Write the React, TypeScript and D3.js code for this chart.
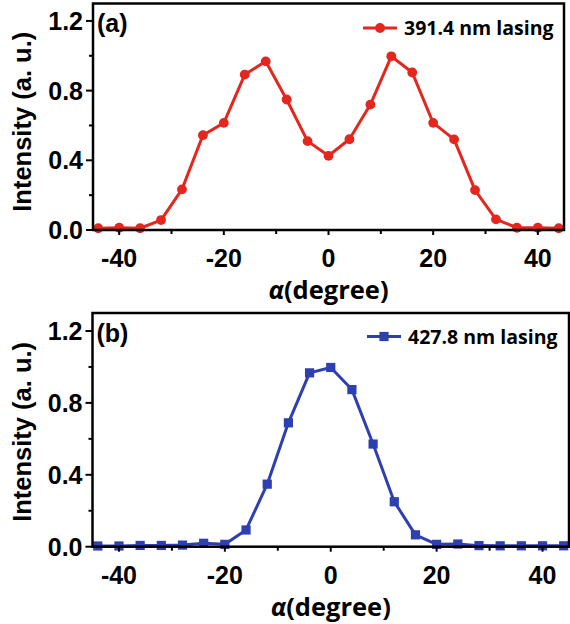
import React from "react";
import * as d3 from "d3";

const angles = [-44, -40, -36, -32, -28, -24, -20, -16, -12, -8, -4, 0, 4, 8, 12, 16, 20, 24, 28, 32, 36, 40, 44];
const redValues = [0.01, 0.013, 0.01, 0.057, 0.233, 0.544, 0.615, 0.892, 0.968, 0.749, 0.51, 0.426, 0.521, 0.72, 0.997, 0.904, 0.615, 0.52, 0.229, 0.061, 0.013, 0.013, 0.01];
const blueValues = [0.004, 0.004, 0.007, 0.007, 0.009, 0.019, 0.013, 0.093, 0.348, 0.689, 0.967, 0.997, 0.874, 0.571, 0.25, 0.066, 0.013, 0.015, 0.006, 0.005, 0.005, 0.005, 0.005];
const xMajorTicks = [-40, -20, 0, 20, 40];
const xMinorTicks = [-30, -10, 10, 30];
const yMajorTicks = [0, 0.4, 0.8, 1.2];
const yMinorTicks = [0.2, 0.6, 1.0];
const panelLabels = ["(a)", "(b)"];
const legendLabels = ["391.4 nm lasing", "427.8 nm lasing"];

const RED = "#e3271f";
const BLUE = "#2e3fb0";
const TICK_FONT = "'Liberation Sans', Arial, sans-serif";
const TITLE_FONT = "'Open Sans', 'Liberation Sans', sans-serif";

type PanelProps = {
  values: number[];
  color: string;
  marker: "circle" | "square";
  label: string;
  legend: string;
  left: number;
  right: number;
  top: number;
  bottom: number;
  legendX: number;
  titleDy: number;
};

function Panel({ values, color, marker, label, legend, left, right, top, bottom, legendX, titleDy }: PanelProps) {
  const x = d3.scaleLinear().domain([-45, 45]).range([left, right]);
  const y = d3.scaleLinear().domain([0, 1.3]).range([bottom, top]);
  const data = angles.map((a, i) => [a, values[i]] as [number, number]);
  const line = d3.line<[number, number]>().x((d) => x(d[0])).y((d) => y(d[1]));
  const mk = (cx: number, cy: number, key: string | number) =>
    marker === "circle" ? (
      <circle key={key} cx={cx} cy={cy} r={4.9} fill={color} />
    ) : (
      <rect key={key} x={cx - 4.6} y={cy - 4.6} width={9.2} height={9.2} fill={color} />
    );
  const legY = y(1.3) + (marker === "circle" ? 24.5 : 23.5);
  return (
    <g>
      <path d={line(data) || ""} fill="none" stroke={color} strokeWidth={3} strokeLinejoin="round" />
      {data.map((d, i) => mk(x(d[0]), y(d[1]), i))}
      {/* frame */}
      <rect x={left} y={top} width={right - left} height={bottom - top} fill="none" stroke="#000" strokeWidth={2.5} />
      {/* x ticks */}
      {xMajorTicks.map((t) => (
        <g key={"xm" + t}>
          <line x1={x(t)} x2={x(t)} y1={bottom} y2={bottom + 5} stroke="#000" strokeWidth={2} />
          <text x={x(t)} y={bottom + 37} textAnchor="middle" fontFamily={TICK_FONT} fontWeight="bold" fontSize={25}>
            {t}
          </text>
        </g>
      ))}
      {xMinorTicks.map((t) => (
        <line key={"xn" + t} x1={x(t)} x2={x(t)} y1={bottom} y2={bottom + 4} stroke="#000" strokeWidth={2} />
      ))}
      {yMajorTicks.map((t) => (
        <g key={"ym" + t}>
          <line x1={left - 7} x2={left} y1={y(t)} y2={y(t)} stroke="#000" strokeWidth={2} />
          <text x={left - 10} y={y(t) + 9} textAnchor="end" fontFamily={TICK_FONT} fontWeight="bold" fontSize={25}>
            {t.toFixed(1)}
          </text>
        </g>
      ))}
      {yMinorTicks.map((t) => (
        <line key={"yn" + t} x1={left - 4} x2={left} y1={y(t)} y2={y(t)} stroke="#000" strokeWidth={2} />
      ))}
      {/* axis titles */}
      <text
        transform={`translate(22,${(top + bottom) / 2 + titleDy}) rotate(-90)`}
        textAnchor="middle"
        fontFamily={TICK_FONT}
        fontWeight="bold"
        fontSize={25.5}
        dominantBaseline="central"
      >
        Intensity (a. u.)
      </text>
      <text x={x(0)} y={bottom + 69} textAnchor="middle" fontFamily={TITLE_FONT} fontWeight="bold" fontSize={25.5}>
        <tspan fontStyle="italic">α</tspan>(degree)
      </text>
      {/* panel label */}
      <text x={left + 4} y={top + 28.5} fontFamily={TICK_FONT} fontWeight="bold" fontSize={25}>
        {label}
      </text>
      {/* legend */}
      <line x1={legendX} x2={legendX + 34} y1={legY} y2={legY} stroke={color} strokeWidth={3} />
      {mk(legendX + 17, legY, "leg")}
      <text x={legendX + 41} y={legY + 7} fontFamily={TITLE_FONT} fontWeight="bold" fontSize={19.5}>
        {legend}
      </text>
    </g>
  );
}

export default function App() {
  return (
    <svg
      width={570}
      height={624}
      style={{ position: "absolute", left: 0, top: 0, background: "#fff" }}
    >
      <rect x={0} y={0} width={570} height={624} fill="#fff" />
      <Panel
        values={redValues}
        color={RED}
        marker="circle"
        label={panelLabels[0]}
        legend={legendLabels[0]}
        left={93}
        right={564}
        top={3.5}
        bottom={230}
        legendX={363}
        titleDy={5}
      />
      <Panel
        values={blueValues}
        color={BLUE}
        marker="square"
        label={panelLabels[1]}
        legend={legendLabels[1]}
        left={92.5}
        right={569}
        top={313}
        bottom={546.7}
        legendX={367}
        titleDy={2}
      />
    </svg>
  );
}
